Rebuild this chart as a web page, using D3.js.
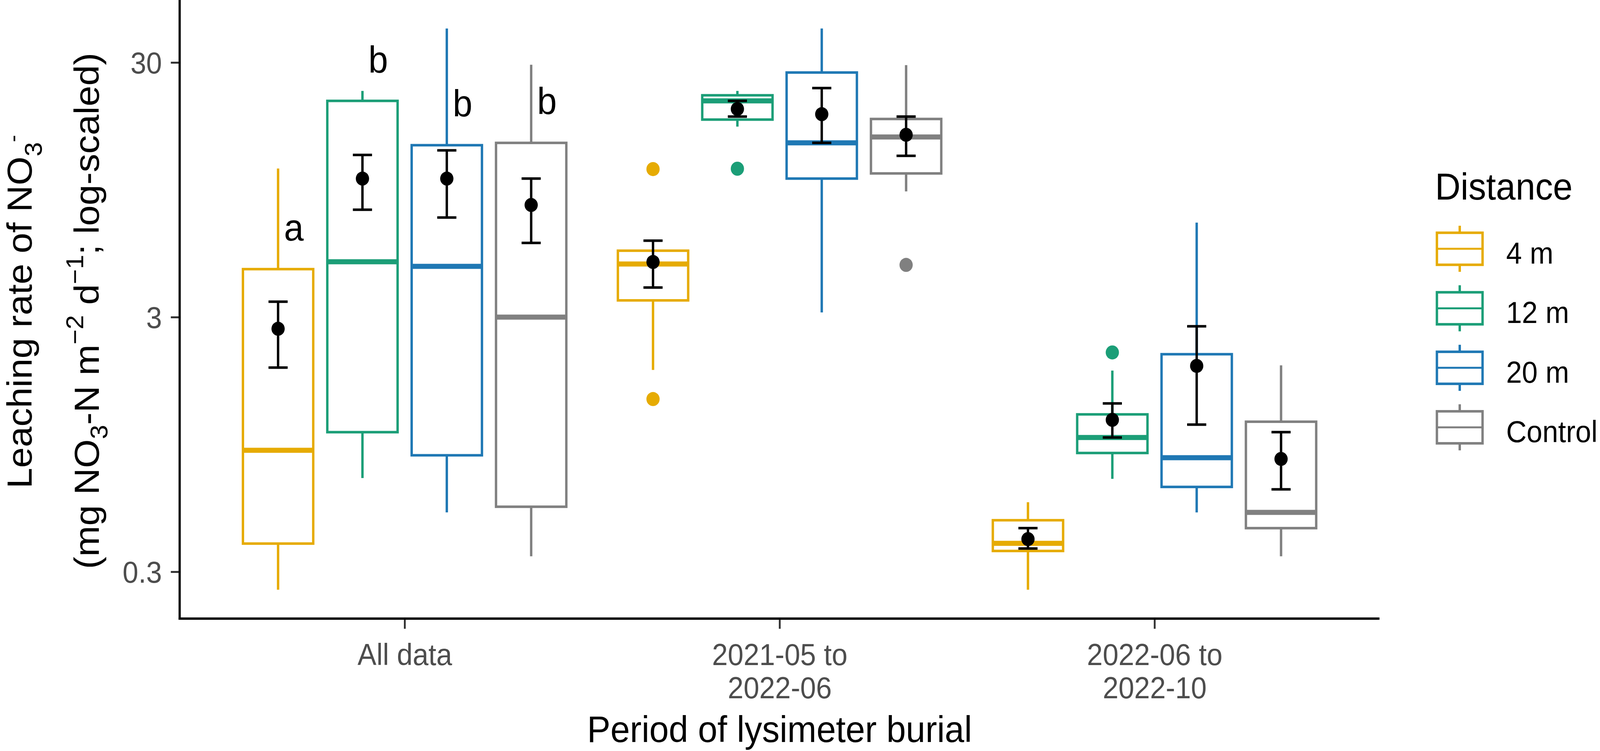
<!DOCTYPE html>
<html>
<head>
<meta charset="utf-8">
<script src="https://cdn.jsdelivr.net/npm/d3@7"></script>
<style>
  html, body { margin: 0; padding: 0; background: #fff; overflow: hidden; }
  svg { display: block; width: 100vw; height: 100vh; }
  text { font-family: "Liberation Sans", Arial, Helvetica, sans-serif; }
</style>
</head>
<body>
<div id="chart"></div>
<script>
// categories
const periods = [["All data"], ["2021-05 to", "2022-06"], ["2022-06 to", "2022-10"]];
const distances = ["4 m", "12 m", "20 m", "Control"];
const palette = ["#E6AB02", "#1B9E77", "#1F78B4", "#808080"];

// box stats, rows = period, cols = distance
const lowerWhisker = [
  [0.255, 0.70, 0.513, 0.345],
  [1.86, 16.8, 3.13, 9.35],
  [0.255, 0.695, 0.513, 0.345]
];
const q1 = [
  [0.387, 1.06, 0.86, 0.54],
  [3.49, 17.9, 10.5, 11.0],
  [0.362, 0.878, 0.646, 0.445]
];
const median = [
  [0.90, 4.95, 4.75, 3.0],
  [4.85, 21.2, 14.5, 15.3],
  [0.388, 1.01, 0.841, 0.513]
];
const q3 = [
  [4.63, 21.2, 14.2, 14.5],
  [5.47, 22.3, 27.4, 18.0],
  [0.478, 1.245, 2.145, 1.165]
];
const upperWhisker = [
  [11.5, 23.2, 40.8, 29.4],
  [5.47, 23.2, 40.8, 29.3],
  [0.5625, 1.85, 7.05, 1.94]
];

// mean +/- SE
const meanVal = [
  [2.70, 10.5, 10.5, 8.27],
  [4.94, 19.7, 18.8, 15.6],
  [0.403, 1.185, 1.93, 0.832]
];
const seLow = [
  [1.90, 7.92, 7.38, 5.87],
  [3.92, 18.4, 14.5, 12.9],
  [0.370, 1.01, 1.135, 0.632]
];
const seHigh = [
  [3.45, 13.0, 13.55, 10.5],
  [5.99, 21.2, 23.8, 18.4],
  [0.445, 1.374, 2.76, 1.06]
];

const outliers = [
  {period: 1, distance: 0, value: 11.44},
  {period: 1, distance: 0, value: 1.43},
  {period: 1, distance: 1, value: 11.48},
  {period: 1, distance: 3, value: 4.81},
  {period: 2, distance: 1, value: 2.18}
];

// significance letters for "All data"
const letters = ["a", "b", "b", "b"];
const letterY = [6.0, 27.4, 18.4, 18.8];

const yTicks = [0.3, 3, 30];

const W = 4346, H = 1923;
const margin = {top: 0, right: 599, bottom: 339, left: 488};
const plotW = W - margin.left - margin.right;
const plotH = H - margin.top - margin.bottom;

// draw in a fixed 4346x1923 coordinate space, stretched to the window
const svg = d3.select('#chart').append('svg')
  .attr('viewBox', `0 0 ${W} ${H}`)
  .attr('preserveAspectRatio', 'none');

const g = svg.append('g')
  .attr('transform', `translate(${margin.left},${margin.top})`);

const x = d3.scalePoint()
  .domain(d3.range(periods.length))
  .range([0, plotW])
  .padding(0.6);
const step = x.step();

// log scale anchored at the ticks
const y = d3.scaleLog().domain([0.3, 30]).range([1464, 160]);

const dodge = 0.9 * step / distances.length;
const boxW = 0.75 * step / distances.length;
const xPos = (p, d) => x(p) + (d - (distances.length - 1) / 2) * dodge;

const rows = [];
periods.forEach((_, p) => distances.forEach((_, d) => rows.push({p, d})));

// boxplots
const boxes = g.selectAll('.box').data(rows).enter().append('g').attr('class', 'box');
boxes.append('line')
  .attr('x1', r => xPos(r.p, r.d)).attr('x2', r => xPos(r.p, r.d))
  .attr('y1', r => y(q3[r.p][r.d])).attr('y2', r => y(upperWhisker[r.p][r.d]))
  .attr('stroke', r => palette[r.d]).attr('stroke-width', 6.5);
boxes.append('line')
  .attr('x1', r => xPos(r.p, r.d)).attr('x2', r => xPos(r.p, r.d))
  .attr('y1', r => y(q1[r.p][r.d])).attr('y2', r => y(lowerWhisker[r.p][r.d]))
  .attr('stroke', r => palette[r.d]).attr('stroke-width', 6.5);
boxes.append('rect')
  .attr('x', r => xPos(r.p, r.d) - boxW / 2)
  .attr('width', boxW)
  .attr('y', r => y(q3[r.p][r.d]))
  .attr('height', r => y(q1[r.p][r.d]) - y(q3[r.p][r.d]))
  .attr('fill', 'white')
  .attr('stroke', r => palette[r.d]).attr('stroke-width', 6.5);
boxes.append('line')
  .attr('x1', r => xPos(r.p, r.d) - boxW / 2).attr('x2', r => xPos(r.p, r.d) + boxW / 2)
  .attr('y1', r => y(median[r.p][r.d])).attr('y2', r => y(median[r.p][r.d]))
  .attr('stroke', r => palette[r.d]).attr('stroke-width', 13);

// outliers
g.selectAll('.outlier').data(outliers).enter().append('circle')
  .attr('cx', o => xPos(o.period, o.distance))
  .attr('cy', o => y(o.value))
  .attr('r', 18)
  .attr('fill', o => palette[o.distance]);

// mean and SE
const capW = 52;
const se = g.selectAll('.se').data(rows).enter().append('g').attr('class', 'se')
  .attr('stroke', 'black').attr('stroke-width', 6.5);
se.append('line')
  .attr('x1', r => xPos(r.p, r.d)).attr('x2', r => xPos(r.p, r.d))
  .attr('y1', r => y(seLow[r.p][r.d])).attr('y2', r => y(seHigh[r.p][r.d]));
se.append('line')
  .attr('x1', r => xPos(r.p, r.d) - capW / 2).attr('x2', r => xPos(r.p, r.d) + capW / 2)
  .attr('y1', r => y(seLow[r.p][r.d])).attr('y2', r => y(seLow[r.p][r.d]));
se.append('line')
  .attr('x1', r => xPos(r.p, r.d) - capW / 2).attr('x2', r => xPos(r.p, r.d) + capW / 2)
  .attr('y1', r => y(seHigh[r.p][r.d])).attr('y2', r => y(seHigh[r.p][r.d]));
g.selectAll('.mean').data(rows).enter().append('circle')
  .attr('cx', r => xPos(r.p, r.d))
  .attr('cy', r => y(meanVal[r.p][r.d]))
  .attr('r', 18).attr('fill', 'black');

// letters
g.selectAll('.letter').data(letters).enter().append('text')
  .attr('x', (l, i) => xPos(0, i) + 0.042 * step)
  .attr('y', (l, i) => y(letterY[i]))
  .attr('text-anchor', 'middle')
  .attr('font-size', 96)
  .text(l => l);

// axes
const yAxis = g.append('g')
  .call(d3.axisLeft(y).tickValues(yTicks).tickFormat(d3.format('~g')).tickSize(24).tickPadding(24));
yAxis.select('.domain').remove();
yAxis.selectAll('.tick line').attr('stroke', '#333333').attr('stroke-width', 5);
yAxis.selectAll('.tick text').attr('fill', '#4D4D4D').attr('font-size', 77)
  .attr('font-family', '"Liberation Sans", Arial, sans-serif').attr('dy', '0.36em');

const xAxis = g.append('g')
  .attr('transform', `translate(0,${plotH})`)
  .call(d3.axisBottom(x).tickSize(26).tickFormat(''));
xAxis.select('.domain').remove();
xAxis.selectAll('.tick line').attr('stroke', '#333333').attr('stroke-width', 5);
xAxis.selectAll('.tick').append('text')
  .attr('fill', '#4D4D4D').attr('font-size', 77)
  .attr('font-family', '"Liberation Sans", Arial, sans-serif')
  .attr('text-anchor', 'middle')
  .selectAll('tspan').data(p => periods[p]).enter().append('tspan')
  .attr('x', 0)
  .attr('y', (t, i) => 119 + i * 85)
  .text(t => t);

// axis lines
g.append('line').attr('x1', 0).attr('x2', 0).attr('y1', 0).attr('y2', plotH + 3)
  .attr('stroke', 'black').attr('stroke-width', 6);
g.append('line').attr('x1', -3).attr('x2', plotW).attr('y1', plotH).attr('y2', plotH)
  .attr('stroke', 'black').attr('stroke-width', 6);

// axis titles
svg.append('text')
  .attr('x', margin.left + plotW / 2).attr('y', 1900)
  .attr('text-anchor', 'middle').attr('font-size', 95)
  .text('Period of lysimeter burial');

const yt1 = svg.append('text')
  .attr('transform', 'translate(86,798) rotate(-90)')
  .attr('text-anchor', 'middle').attr('font-size', 95);
yt1.append('tspan').text('Leaching rate of NO');
yt1.append('tspan').attr('font-size', 66).attr('dy', 28).text('3');
yt1.append('tspan').attr('font-size', 56).attr('dy', -60).text('-');

const yt2 = svg.append('text')
  .attr('transform', 'translate(268,796) rotate(-90)')
  .attr('text-anchor', 'middle').attr('font-size', 95);
yt2.append('tspan').text('(mg NO');
yt2.append('tspan').attr('font-size', 66).attr('dy', 24).text('3');
yt2.append('tspan').attr('dy', -24).text('-N m');
yt2.append('tspan').attr('font-size', 66).attr('dy', -42).text('\u22122');
yt2.append('tspan').attr('dy', 42).text(' d');
yt2.append('tspan').attr('font-size', 66).attr('dy', -42).text('\u22121');
yt2.append('tspan').attr('dy', 42).text('; log-scaled)');

// legend
const legend = svg.append('g').attr('transform', 'translate(3903,0)');
legend.append('text').attr('x', -5).attr('y', 511).attr('font-size', 96).text('Distance');
const keyH = 152.4, keyW = 124;
const keys = legend.selectAll('.key').data(distances).enter().append('g')
  .attr('transform', (d, i) => `translate(0,${637 + i * keyH})`);
keys.append('line').attr('x1', keyW / 2).attr('x2', keyW / 2).attr('y1', -59).attr('y2', 59)
  .attr('stroke', (d, i) => palette[i]).attr('stroke-width', 6.5);
keys.append('rect').attr('x', 0).attr('y', -41).attr('width', keyW).attr('height', 82)
  .attr('fill', 'white').attr('stroke', (d, i) => palette[i]).attr('stroke-width', 6.5);
keys.append('line').attr('x1', 0).attr('x2', keyW).attr('y1', 0).attr('y2', 0)
  .attr('stroke', (d, i) => palette[i]).attr('stroke-width', 5);
keys.append('text').attr('x', 188).attr('y', 38).attr('font-size', 77).text(d => d);
</script>
</body>
</html>
